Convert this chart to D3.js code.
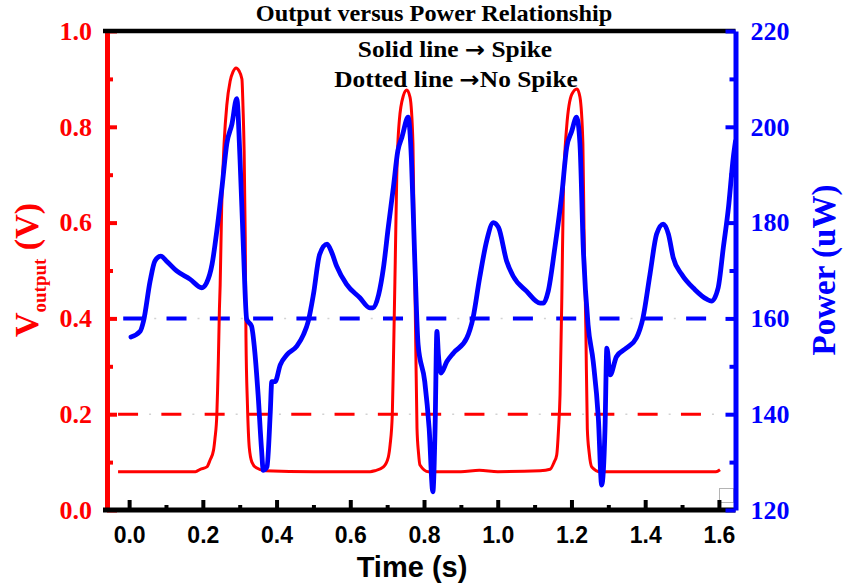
<!DOCTYPE html>
<html>
<head>
<meta charset="utf-8">
<script src="https://cdn.jsdelivr.net/npm/d3@7"></script>
<style>
  body { margin: 0; background: #fff; }
  svg { display: block; }
</style>
</head>
<body>
<div id="chart"></div>
<script>
const WIDTH = 845;
const HEIGHT = 588;

// output voltage (red, solid)
const timeV = [-0.03, 0.10, 0.18, 0.193, 0.211, 0.220, 0.229, 0.233, 0.238, 0.240, 0.242, 0.245, 0.247, 0.251, 0.258, 0.265, 0.274, 0.282, 0.290, 0.298, 0.306, 0.309, 0.312, 0.315, 0.317, 0.321, 0.326, 0.333, 0.345, 0.369,
  0.50, 0.654, 0.667, 0.690, 0.703, 0.708, 0.714, 0.717, 0.722, 0.726, 0.733, 0.744, 0.753, 0.762, 0.770, 0.773, 0.777, 0.781, 0.785, 0.789, 0.812,
  0.90, 0.95, 1.00, 1.115, 1.142, 1.153, 1.160, 1.165, 1.169, 1.174, 1.178, 1.187, 1.201, 1.215, 1.223, 1.231, 1.234, 1.239, 1.243, 1.248, 1.255, 1.278,
  1.40, 1.50, 1.592, 1.603];
const volts = [0.080, 0.080, 0.080, 0.085, 0.090, 0.105, 0.125, 0.150, 0.200, 0.250, 0.310, 0.420, 0.470, 0.630, 0.770, 0.845, 0.895, 0.915, 0.923, 0.917, 0.900, 0.840, 0.750, 0.570, 0.360, 0.220, 0.130, 0.100, 0.088, 0.082,
  0.080, 0.080, 0.082, 0.090, 0.110, 0.136, 0.200, 0.310, 0.520, 0.695, 0.813, 0.865, 0.877, 0.862, 0.765, 0.590, 0.380, 0.170, 0.120, 0.094, 0.080,
  0.080, 0.083, 0.080, 0.082, 0.085, 0.100, 0.115, 0.170, 0.240, 0.450, 0.660, 0.800, 0.868, 0.879, 0.862, 0.765, 0.590, 0.380, 0.170, 0.120, 0.090, 0.080,
  0.080, 0.080, 0.080, 0.084];

// power (blue, solid)
const timeP = [0.005, 0.030, 0.039, 0.057, 0.070, 0.086, 0.101, 0.129, 0.165, 0.197, 0.210, 0.225, 0.238, 0.252, 0.265, 0.279, 0.292, 0.301, 0.310, 0.319, 0.332, 0.341, 0.350, 0.359, 0.364, 0.374, 0.383, 0.387, 0.396, 0.410, 0.428, 0.455, 0.473, 0.486, 0.500, 0.517, 0.537, 0.550, 0.563, 0.590, 0.626, 0.653, 0.662, 0.677, 0.690, 0.703, 0.717, 0.729, 0.740, 0.757, 0.766, 0.775, 0.784, 0.802, 0.814, 0.824, 0.830, 0.835, 0.839, 0.846, 0.862, 0.880, 0.916, 0.933, 0.951, 0.970, 0.988, 1.002, 1.024, 1.042, 1.078, 1.115, 1.124, 1.137, 1.155, 1.174, 1.187, 1.200, 1.214, 1.223, 1.232, 1.245, 1.259, 1.273, 1.282, 1.291, 1.296, 1.305, 1.322, 1.349, 1.376, 1.394, 1.413, 1.431, 1.449, 1.463, 1.476, 1.499, 1.535, 1.567, 1.580, 1.598, 1.612, 1.626, 1.639, 1.645];
const power = [156.1, 157.3, 159.4, 167.8, 172.0, 173.0, 172.0, 169.9, 168.2, 166.4, 167.4, 171.3, 178.3, 187.4, 196.5, 200.6, 205.9, 193.0, 174.8, 159.8, 158.4, 153.0, 144.0, 132.9, 128.3, 129.0, 140.5, 146.8, 146.8, 150.3, 152.4, 154.2, 156.6, 159.4, 165.0, 173.4, 175.5, 173.7, 170.9, 167.1, 164.3, 162.2, 162.2, 165.0, 170.6, 179.0, 187.4, 195.0, 197.8, 202.0, 193.0, 172.0, 154.5, 146.8, 137.0, 123.8, 137.0, 157.3, 152.4, 148.6, 151.0, 152.8, 155.9, 160.1, 168.5, 176.2, 180.0, 179.0, 172.0, 168.8, 165.7, 163.2, 163.2, 165.7, 174.8, 186.0, 195.7, 198.9, 202.0, 196.5, 174.8, 158.7, 151.0, 139.1, 125.2, 137.0, 153.8, 148.2, 152.0, 153.8, 155.9, 160.1, 169.2, 177.6, 179.7, 177.6, 172.7, 169.2, 166.0, 164.0, 163.6, 166.4, 174.8, 183.2, 193.6, 197.0];

// thresholds (dashed)
const vThresholdTime = [-0.03, 1.598];
const vThreshold = [0.2, 0.2];
const pThresholdTime = [-0.016, 1.595];
const pThreshold = [160, 160];

const xTicks = [0, 0.2, 0.4, 0.6, 0.8, 1.0, 1.2, 1.4, 1.6];
const xMinor = [0.1, 0.3, 0.5, 0.7, 0.9, 1.1, 1.3, 1.5];
const vTicks = [0, 0.2, 0.4, 0.6, 0.8, 1.0];
const vMinor = [0.1, 0.3, 0.5, 0.7, 0.9];
const pTicks = [120, 140, 160, 180, 200, 220];
const pMinor = [130, 150, 170, 190, 210];

const SERIF = "'Liberation Serif', 'Times New Roman', serif";
const SANS = "'Liberation Sans', Arial, sans-serif";

const svg = d3.select("#chart")
  .append("svg")
    .attr("width", WIDTH)
    .attr("height", HEIGHT);

const x = d3.scaleLinear().domain([-0.06, 1.645]).range([107, 735.5]);
const yV = d3.scaleLinear().domain([0, 1]).range([510, 31]);
const yP = d3.scaleLinear().domain([120, 220]).range([510, 31]);

// dashed threshold lines
const vLine = d3.line().x(d => x(d[0])).y(d => yV(d[1]));
const pLine = d3.line().x(d => x(d[0])).y(d => yP(d[1]));
const vThr = d3.zip(vThresholdTime, vThreshold);
const pThr = d3.zip(pThresholdTime, pThreshold);

svg.append("path").attr("d", vLine(vThr))
  .attr("fill", "none").attr("stroke", "#d2d2d2").attr("stroke-width", 1.5)
  .attr("stroke-dasharray", "2,41.3").attr("stroke-dashoffset", 12.3);
svg.append("path").attr("d", vLine(vThr))
  .attr("fill", "none").attr("stroke", "#ff0000").attr("stroke-width", 3)
  .attr("stroke-dasharray", "20,23.3");

svg.append("path").attr("d", pLine(pThr))
  .attr("fill", "none").attr("stroke", "#d2d2d2").attr("stroke-width", 1.5)
  .attr("stroke-dasharray", "2,41.3").attr("stroke-dashoffset", 12.3);
svg.append("path").attr("d", pLine(pThr))
  .attr("fill", "none").attr("stroke", "#0000ff").attr("stroke-width", 4)
  .attr("stroke-dasharray", "20,23.3");

// curves
svg.append("path")
  .attr("d", d3.line().x(d => x(d[0])).y(d => yV(d[1])).curve(d3.curveMonotoneX)(d3.zip(timeV, volts)))
  .attr("fill", "none").attr("stroke", "#ff0000").attr("stroke-width", 3)
  .attr("stroke-linejoin", "round");

svg.append("path")
  .attr("d", d3.line().x(d => x(d[0])).y(d => yP(d[1])).curve(d3.curveMonotoneX)(d3.zip(timeP, power)))
  .attr("fill", "none").attr("stroke", "#0000ff").attr("stroke-width", 4.8)
  .attr("stroke-linejoin", "round").attr("stroke-linecap", "round");

// little grey box near the last tick
svg.append("rect")
  .attr("x", 719.5).attr("y", 488.5).attr("width", 14).attr("height", 14)
  .attr("fill", "none").attr("stroke", "#b4b4b4").attr("stroke-width", 1);

// left axis (red)
const left = svg.append("g").attr("transform", "translate(107,0)");
left.append("g")
  .call(d3.axisLeft(yV).tickValues(vMinor).tickSize(-6).tickSizeOuter(0).tickFormat(""))
  .call(g => g.select(".domain").remove());
left.append("g")
  .call(d3.axisLeft(yV).tickValues(vTicks).tickSize(-10).tickSizeOuter(0).tickPadding(15).tickFormat(d3.format(".1f")));
left.selectAll(".tick line").attr("stroke", "#ff0000").attr("stroke-width", 4);
left.selectAll(".domain").attr("stroke", "#ff0000").attr("stroke-width", 5);
left.selectAll(".tick text")
  .attr("fill", "#ff0000")
  .style("font-family", SERIF).style("font-weight", "bold").style("font-size", "26px");

// top border
svg.append("line")
  .attr("x1", 103).attr("x2", 735.5).attr("y1", 31).attr("y2", 31)
  .attr("stroke", "#000").attr("stroke-width", 4.5);

// bottom axis (black)
const bottom = svg.append("g").attr("transform", "translate(0,510)");
bottom.append("g")
  .call(d3.axisBottom(x).tickValues(xMinor).tickSize(-5).tickSizeOuter(0).tickFormat(""))
  .call(g => g.select(".domain").remove());
bottom.append("g")
  .call(d3.axisBottom(x).tickValues(xTicks).tickSize(-10).tickSizeOuter(0).tickPadding(17).tickFormat(d3.format(".1f")));
bottom.selectAll(".tick line").attr("stroke", "#000").attr("stroke-width", 4);
bottom.selectAll(".domain").attr("stroke", "#000").attr("stroke-width", 5)
  .attr("d", "M103,0H735.5");
bottom.selectAll(".tick text")
  .attr("fill", "#000")
  .style("font-family", SANS).style("font-weight", "bold").style("font-size", "23px");

// right axis (blue)
const right = svg.append("g").attr("transform", "translate(735.5,0)");
right.append("g")
  .call(d3.axisRight(yP).tickValues(pMinor).tickSize(-6).tickSizeOuter(0).tickFormat(""))
  .call(g => g.select(".domain").remove());
right.append("g")
  .call(d3.axisRight(yP).tickValues(pTicks).tickSize(-10).tickSizeOuter(0).tickPadding(15));
right.selectAll(".tick line").attr("stroke", "#0000ff").attr("stroke-width", 4);
right.selectAll(".domain").attr("stroke", "#0000ff").attr("stroke-width", 5);
right.selectAll(".tick text")
  .attr("fill", "#0000ff")
  .style("font-family", SERIF).style("font-weight", "bold").style("font-size", "26px");

// axis titles
const yl = svg.append("text")
  .attr("transform", "translate(38,270) rotate(-90)")
  .attr("text-anchor", "middle")
  .attr("fill", "#ff0000")
  .style("font-family", SERIF).style("font-weight", "bold").style("font-size", "34px");
yl.append("tspan").text("V");
yl.append("tspan").attr("dy", 8).style("font-size", "19px").text("output");
yl.append("tspan").attr("dy", -8).text(" (V)");

svg.append("text")
  .attr("transform", "translate(835,270) rotate(-90)")
  .attr("text-anchor", "middle")
  .attr("fill", "#0000ff")
  .style("font-family", SERIF).style("font-weight", "bold").style("font-size", "33px")
  .text("Power (uW)");

svg.append("text")
  .attr("x", 412).attr("y", 577)
  .attr("text-anchor", "middle")
  .style("font-family", SANS).style("font-weight", "bold").style("font-size", "29px")
  .text("Time (s)");

// title and notes
function note(parts, cx, cy, size) {
  const t = svg.append("text")
    .attr("transform", `translate(${cx},${cy}) scale(1.08,1)`)
    .attr("text-anchor", "middle")
    .attr("fill", "#000")
    .style("font-family", SERIF).style("font-weight", "bold").style("font-size", size + "px");
  parts.forEach(p => {
    const s = t.append("tspan").text(p.text);
    if (p.arrow) s.style("font-family", "'DejaVu Sans', sans-serif").style("font-size", (size * 0.95) + "px");
  });
}
note([{ text: "Output versus Power Relationship" }], 434, 20.5, 22.5);
note([{ text: "Solid line " }, { text: "\u2192", arrow: true }, { text: " Spike" }], 455, 57, 23.5);
note([{ text: "Dotted line " }, { text: "\u2192", arrow: true }, { text: "No Spike" }], 456, 87, 23.5);
</script>
</body>
</html>
